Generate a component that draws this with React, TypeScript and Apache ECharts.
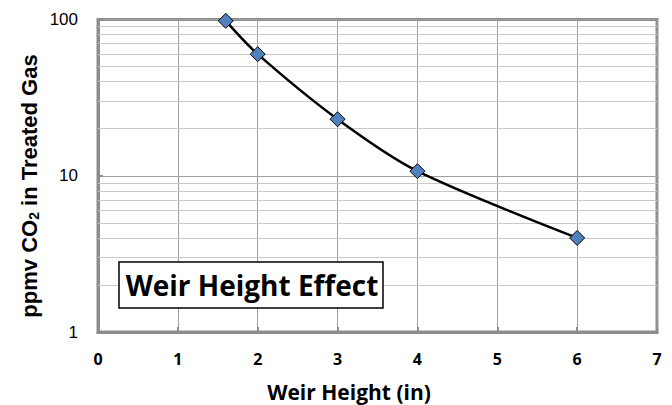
import React, { useEffect, useRef } from "react";
import * as echarts from "echarts";

const weirHeight = [1.6, 2, 3, 4, 6];
const co2ppmv = [98, 60, 23, 10.7, 4];
const minorGrid = [2, 3, 4, 5, 6, 7, 8, 9, 20, 30, 40, 50, 60, 70, 80, 90];
const xTitle = "Weir Height (in)";
const yTitleParts = ["ppmv CO", "2", " in Treated Gas"];
const boxLabel = "Weir Height Effect";

export default function App() {
  const ref = useRef<HTMLDivElement>(null);
  useEffect(() => {
    if (!ref.current) return;
    const chart = echarts.init(ref.current, null, { renderer: "svg" });
    const font = "'Open Sans', Lato, sans-serif";
    const arial = "'Liberation Sans', Arial, sans-serif";
    chart.setOption({
      animation: false,
      backgroundColor: "#ffffff",
      grid: {
        left: 98,
        right: 15,
        top: 19.5,
        bottom: 73,
        show: true,
        borderColor: "#8c8c8c",
        borderWidth: 3,
        backgroundColor: "transparent",
      },
      xAxis: {
        type: "value",
        min: 0,
        max: 7,
        interval: 1,
        axisLine: { show: true, lineStyle: { color: "#8c8c8c", width: 3 } },
        axisTick: { show: true, inside: true, length: 5, lineStyle: { color: "#8c8c8c", width: 2 } },
        axisLabel: { fontFamily: font, fontWeight: "bold", fontSize: 16, color: "#000", margin: 19 },
        splitLine: { show: true, lineStyle: { color: "#a0a0a0", width: 1 } },
      },
      yAxis: {
        type: "log",
        logBase: 10,
        min: 1,
        max: 100,
        axisLine: { show: true, lineStyle: { color: "#8c8c8c", width: 3 } },
        axisTick: { show: true, inside: true, length: 5, lineStyle: { color: "#8c8c8c", width: 2 } },
        axisLabel: { fontFamily: arial, fontSize: 17, color: "#000", margin: 20 },
        splitLine: { show: true, lineStyle: { color: "#a0a0a0", width: 1 } },
      },
      series: [
        {
          type: "line",
          data: [],
          silent: true,
          markLine: {
            silent: true,
            symbol: "none",
            label: { show: false },
            lineStyle: { color: "#c8c8c8", width: 1, type: "solid" },
            data: minorGrid.map((v) => ({ yAxis: v })),
          },
          z: 1,
        },
        {
          type: "line",
          data: weirHeight.map((x, i) => [x, co2ppmv[i]]),
          smooth: 0.3,
          symbol: "diamond",
          symbolSize: 15,
          lineStyle: { color: "#000", width: 2.5 },
          itemStyle: { color: "#4f81bd", borderColor: "#000", borderWidth: 1 },
          z: 5,
        },
      ],
      graphic: [
        {
          type: "text",
          x: 349,
          y: 392,
          style: {
            text: xTitle,
            fontFamily: font,
            fontWeight: "bold",
            fontSize: 21,
            fill: "#000",
            align: "center",
            verticalAlign: "middle",
          },
        },
        {
          type: "text",
          x: 29,
          y: 186,
          rotation: Math.PI / 2,
          style: {
            text: `{a|${yTitleParts[0]}}{s|${yTitleParts[1]}}{a|${yTitleParts[2]}}`,
            align: "center",
            verticalAlign: "middle",
            rich: {
              a: { fontFamily: arial, fontWeight: "bold", fontSize: 22, fill: "#000", color: "#000" },
              s: { fontFamily: arial, fontWeight: "bold", fontSize: 14, fill: "#000", color: "#000", padding: [10, 0, 0, 0] },
            },
          },
        },
        {
          type: "rect",
          shape: { x: 119, y: 262, width: 264, height: 46 },
          style: { fill: "#fff", stroke: "#000", lineWidth: 1.5 },
          z: 10,
        },
        {
          type: "text",
          x: 252,
          y: 285,
          style: {
            text: boxLabel,
            fontFamily: font,
            fontWeight: "bold",
            fontSize: 28,
            fill: "#000",
            align: "center",
            verticalAlign: "middle",
          },
          z: 11,
        },
      ],
    });
    return () => chart.dispose();
  }, []);
  return (
    <div
      ref={ref}
      style={{ position: "fixed", left: 0, top: 0, width: 672, height: 405 }}
    />
  );
}
